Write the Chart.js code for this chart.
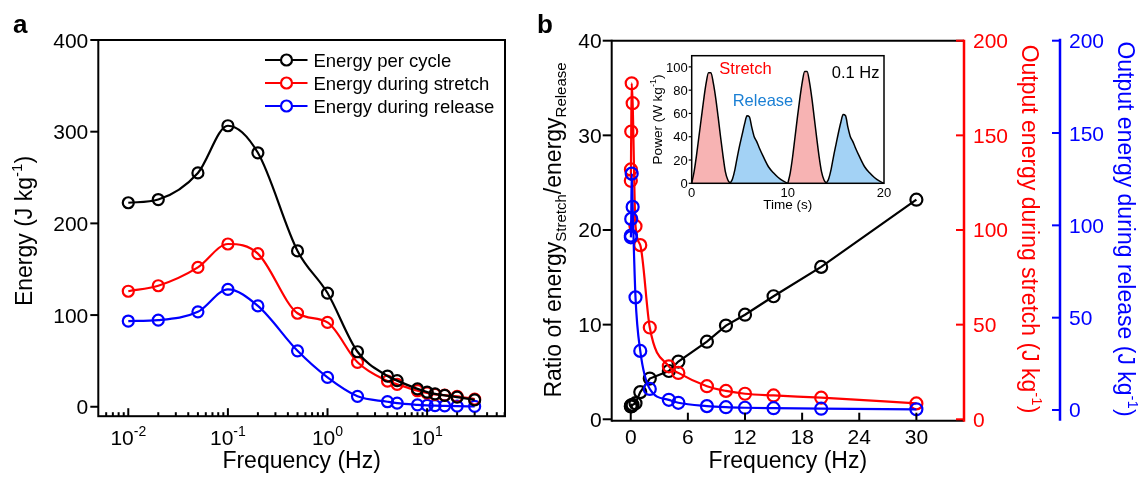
<!DOCTYPE html>
<html>
<head>
<meta charset="utf-8">
<script src="https://cdn.jsdelivr.net/npm/chart.js@4.4.0/dist/chart.umd.min.js"></script>
<style>
  html, body { margin: 0; padding: 0; background: #fff; }
  #wrap { position: relative; width: 1142px; height: 477px; overflow: hidden; }
  canvas { position: absolute; }
</style>
</head>
<body>
<div id="wrap">
  <canvas id="chartA" width="540" height="477" style="left:0;top:0"></canvas>
  <canvas id="chartB" width="612" height="477" style="left:530px;top:0"></canvas>
  <canvas id="inset" width="280" height="180" style="left:630px;top:40px"></canvas>
</div>
<script>
// data
const freqs = [0.01, 0.02, 0.05, 0.1, 0.2, 0.5, 1, 2, 4, 5, 8, 10, 12, 15, 20, 30];
const energyPerCycle = [222.5, 226, 255, 306.5, 277, 170, 124, 60, 33.5, 28.5, 19.5, 16, 14, 12.5, 10.5, 7.5];
const energyStretch = [126, 132, 152, 177.5, 167, 102, 92, 48.5, 28, 24.5, 17.5, 15, 13.5, 12.6, 11.4, 8.4];
const energyRelease = [93.5, 94.5, 103.5, 128, 110, 61, 32, 11.4, 5.5, 3.9, 2.1, 1.5, 1.2, 0.97, 0.7, 0.36];
const energyRatio = [1.35, 1.4, 1.47, 1.39, 1.52, 1.7, 2.87, 4.3, 5.1, 6.1, 8.2, 9.9, 11.05, 13.0, 16.1, 23.2];

const energyTicks = [0, 100, 200, 300, 400];
const logMajorTicks = [0.01, 0.1, 1, 10];
const logTickExps = ['-2', '-1', '0', '1'];
const freqTicks = [0, 6, 12, 18, 24, 30];
const ratioTicks = [0, 10, 20, 30, 40];
const outputTicks = [0, 50, 100, 150, 200];

// inset: power vs time at 0.1 Hz
const insetTime = [0, 0.25, 0.5, 0.75, 1, 1.25, 1.5, 1.75, 2, 2.25, 2.5, 2.75, 3, 3.25, 3.5, 3.75, 4,
  4.25, 4.5, 4.75, 5, 5.25, 5.5, 5.75, 6, 6.25, 6.5, 6.75, 7, 7.5, 8, 8.5, 9, 9.5,
  10, 10.25, 10.5, 10.75, 11, 11.25, 11.5, 11.75, 12, 12.25, 12.5, 12.75, 13, 13.25, 13.5, 13.75, 14,
  14.25, 14.5, 14.75, 15, 15.25, 15.5, 15.75, 16, 16.25, 16.5, 16.75, 17, 17.5, 18, 18.5, 19, 19.5, 20];
const insetPower = [0, 10, 24, 40, 56, 72, 86, 95, 95, 86, 73, 57, 40, 24, 10, 3, 0,
  4, 12, 23, 33, 42, 51, 58, 57, 48, 40, 36, 31, 22, 14, 9, 5, 2,
  0, 9, 23, 40, 57, 73, 87, 96, 96, 87, 73, 56, 39, 23, 10, 3, 0,
  4, 12, 23, 33, 43, 52, 59, 58, 48, 40, 36, 31, 22, 14, 9, 5, 2, 0];
const powerTicks = [0, 20, 40, 60, 80, 100];
const timeTicks = [0, 10, 20];

const FONT = '"Liberation Sans", Arial, sans-serif';
const RED = '#ff0000';
const BLUE = '#0000ff';

function seg(ctx, x1, y1, x2, y2) {
  ctx.beginPath();
  ctx.moveTo(x1, y1);
  ctx.lineTo(x2, y2);
  ctx.stroke();
}

// parts: [text, size, dy]
function rich(ctx, parts, x, y, align) {
  let w = 0;
  const widths = parts.map(p => {
    ctx.font = p[1] + 'px ' + FONT;
    const m = ctx.measureText(p[0]).width;
    w += m;
    return m;
  });
  let cx = align === 'center' ? x - w / 2 : align === 'right' ? x - w : x;
  ctx.textAlign = 'left';
  ctx.textBaseline = 'alphabetic';
  parts.forEach((p, i) => {
    ctx.font = p[1] + 'px ' + FONT;
    ctx.fillText(p[0], cx, y + (p[2] || 0));
    cx += widths[i];
  });
}

function rotText(ctx, parts, cx, cy, angle) {
  ctx.save();
  ctx.translate(cx, cy);
  ctx.rotate(angle);
  rich(ctx, parts, 0, 0, 'center');
  ctx.restore();
}

function pts(xs, ys) {
  return xs.map((v, i) => ({ x: v, y: ys[i] }));
}

function series(label, data, color, extra) {
  return Object.assign({
    label: label,
    data: data,
    borderColor: color,
    borderWidth: 2.2,
    pointRadius: 5.5,
    pointBorderWidth: 2.2,
    pointBorderColor: color,
    pointBackgroundColor: 'rgba(0,0,0,0)',
    cubicInterpolationMode: 'monotone',
    fill: false,
    clip: false
  }, extra || {});
}

// ---------- panel a ----------
const axesA = {
  id: 'axesA',
  afterDraw(chart) {
    const { ctx, chartArea: a, scales: { x, y } } = chart;
    ctx.save();
    ctx.strokeStyle = '#000';
    ctx.fillStyle = '#000';
    ctx.lineWidth = 2;
    ctx.strokeRect(a.left, a.top, a.right - a.left, a.bottom - a.top);

    ctx.font = '21px ' + FONT;
    ctx.textAlign = 'right';
    energyTicks.forEach(v => {
      const py = y.getPixelForValue(v);
      seg(ctx, a.left - 8, py, a.left, py);
      ctx.fillText(String(v), a.left - 10, py + 7.5);
    });

    for (let d = -3; d <= 1; d++) {
      for (let m = 1; m <= 9; m++) {
        const v = m * Math.pow(10, d);
        if (v <= x.min * 1.01 || v >= x.max) continue;
        const px = x.getPixelForValue(v);
        seg(ctx, px, a.bottom, px, a.bottom - (m === 1 ? 8 : 4));
      }
    }
    logMajorTicks.forEach((v, i) => {
      rich(ctx, [['10', 21, 0], [logTickExps[i], 14, -9]], x.getPixelForValue(v), 445, 'center');
    });
    rich(ctx, [['Frequency (Hz)', 23, 0]], (a.left + a.right) / 2, 468, 'center');
    rotText(ctx, [['Energy (J kg', 23, 0], ['-1', 15, -10], [')', 23, 0]], 32, 231, -Math.PI / 2);

    ctx.font = 'bold 26px ' + FONT;
    ctx.textAlign = 'left';
    ctx.fillText('a', 13, 33);

    // legend
    chart.data.datasets.forEach((ds, i) => {
      const ly = 60 + i * 23;
      ctx.strokeStyle = ds.borderColor;
      ctx.lineWidth = 2.2;
      seg(ctx, 265, ly, 307.5, ly);
      ctx.beginPath();
      ctx.arc(286.5, ly, 5.5, 0, Math.PI * 2);
      ctx.fillStyle = '#fff';
      ctx.fill();
      ctx.stroke();
      ctx.fillStyle = '#000';
      rich(ctx, [[ds.label, 18.5, 0]], 313.4, ly + 6.6, 'left');
    });
    ctx.restore();
  }
};

new Chart(document.getElementById('chartA'), {
  type: 'line',
  data: {
    datasets: [
      series('Energy per cycle', pts(freqs, energyPerCycle), '#000000'),
      series('Energy during stretch', pts(freqs, energyStretch), RED),
      series('Energy during release', pts(freqs, energyRelease), BLUE)
    ]
  },
  options: {
    responsive: false,
    animation: false,
    events: [],
    layout: { autoPadding: false, padding: { left: 98.3, right: 35, top: 40, bottom: 60.8 } },
    scales: {
      x: { type: 'logarithmic', min: 0.005, max: 60.5, display: false },
      y: { type: 'linear', min: -10.3, max: 400, display: false }
    },
    plugins: { legend: { display: false }, tooltip: { enabled: false } }
  },
  plugins: [axesA]
});

// ---------- panel b ----------
const axesB = {
  id: 'axesB',
  afterDraw(chart) {
    const { ctx, chartArea: a, scales } = chart;
    const x = scales.x, y = scales.y, yS = scales.yS, yR = scales.yR;
    ctx.save();
    ctx.lineWidth = 2;
    ctx.strokeStyle = '#000';
    ctx.fillStyle = '#000';
    seg(ctx, a.left, a.top, a.right, a.top);
    seg(ctx, a.left, a.top - 1, a.left, a.bottom + 1);
    seg(ctx, a.left, a.bottom, a.right, a.bottom);

    ctx.font = '21px ' + FONT;
    ctx.textAlign = 'right';
    ratioTicks.forEach(v => {
      const py = y.getPixelForValue(v);
      seg(ctx, a.left - 9, py, a.left, py);
      ctx.fillText(String(v), a.left - 10, py + 7.5);
    });
    ctx.textAlign = 'center';
    freqTicks.forEach(v => {
      const px = x.getPixelForValue(v);
      seg(ctx, px, a.bottom, px, a.bottom - 8);
      ctx.fillText(String(v), px, 444);
    });
    rich(ctx, [['Frequency (Hz)', 23, 0]], (a.left + a.right) / 2, 468, 'center');
    rotText(ctx, [['Ratio of energy', 23, 0], ['Stretch', 15, 5], ['/energy', 23, 0], ['Release', 15, 5]],
      31, 230, -Math.PI / 2);

    // stretch axis (red)
    ctx.strokeStyle = RED;
    ctx.fillStyle = RED;
    ctx.lineWidth = 2.5;
    seg(ctx, a.right, a.top - 1, a.right, a.bottom + 1);
    ctx.lineWidth = 2;
    ctx.font = '21px ' + FONT;
    ctx.textAlign = 'left';
    outputTicks.forEach(v => {
      const py = yS.getPixelForValue(v);
      seg(ctx, a.right - 8, py, a.right, py);
      ctx.fillText(String(v), a.right + 9, py + 7.5);
    });
    rotText(ctx, [['Output energy during stretch (J kg', 23, 0], ['-1', 15, -10], [')', 23, 0]],
      491.5, 229, Math.PI / 2);

    // release axis (blue)
    const bx = a.right + 96;
    ctx.strokeStyle = BLUE;
    ctx.fillStyle = BLUE;
    ctx.lineWidth = 2.5;
    seg(ctx, bx, a.top - 2, bx, a.bottom);
    ctx.lineWidth = 2;
    ctx.font = '21px ' + FONT;
    ctx.textAlign = 'left';
    outputTicks.forEach(v => {
      const py = yR.getPixelForValue(v);
      seg(ctx, bx - 8, py, bx, py);
      ctx.fillText(String(v), bx + 9, py + 7.5);
    });
    rotText(ctx, [['Output energy during release (J kg', 23, 0], ['-1', 15, -10], [')', 23, 0]],
      587.5, 229, Math.PI / 2);

    ctx.fillStyle = '#000';
    ctx.font = 'bold 26px ' + FONT;
    ctx.textAlign = 'left';
    ctx.fillText('b', 7, 33);
    ctx.restore();
  }
};

new Chart(document.getElementById('chartB'), {
  type: 'line',
  data: {
    datasets: [
      series('Energy during release', pts(freqs, energyRelease), BLUE, { yAxisID: 'yR', pointRadius: 6 }),
      series('Energy during stretch', pts(freqs, energyStretch), RED, { yAxisID: 'yS', pointRadius: 6 }),
      series('Ratio', pts(freqs, energyRatio), '#000000', { yAxisID: 'y', pointRadius: 6, cubicInterpolationMode: 'default', tension: 0 })
    ]
  },
  options: {
    responsive: false,
    animation: false,
    events: [],
    layout: { autoPadding: false, padding: { left: 81.7, right: 178, top: 40.7, bottom: 56.3 } },
    scales: {
      x: { type: 'linear', min: -2, max: 35, display: false },
      y: { type: 'linear', min: -0.15, max: 40, display: false },
      yS: { type: 'linear', position: 'right', min: -0.74, max: 200, display: false },
      yR: { type: 'linear', position: 'right', min: -5.8, max: 200, display: false }
    },
    plugins: { legend: { display: false }, tooltip: { enabled: false } }
  },
  plugins: [axesB]
});

// ---------- inset ----------
const stretchPart = insetTime.map((t, i) => (t % 10) <= 4 && t < 20 ? insetPower[i] : null);
const releasePart = insetTime.map((t, i) => (t % 10) >= 4 || ((t % 10) === 0 && t > 0) ? insetPower[i] : null);

const axesInset = {
  id: 'axesInset',
  beforeDraw(chart) {
    const { ctx, chartArea: a } = chart;
    ctx.save();
    ctx.fillStyle = '#fff';
    ctx.fillRect(a.left, a.top, a.right - a.left, a.bottom - a.top);
    ctx.restore();
  },
  afterDraw(chart) {
    const { ctx, chartArea: a, scales: { x, y } } = chart;
    ctx.save();
    ctx.strokeStyle = '#000';
    ctx.fillStyle = '#000';
    ctx.lineWidth = 1.5;
    ctx.strokeRect(a.left, a.top, a.right - a.left, a.bottom - a.top);
    ctx.lineWidth = 1.2;
    ctx.font = '13px ' + FONT;
    ctx.textAlign = 'right';
    powerTicks.forEach(v => {
      const py = y.getPixelForValue(v);
      seg(ctx, a.left - 3, py, a.left, py);
      ctx.fillText(String(v), a.left - 4, py + 4.7);
    });
    ctx.textAlign = 'center';
    timeTicks.forEach(v => {
      ctx.fillText(String(v), x.getPixelForValue(v), 156.5);
    });
    rich(ctx, [['Time (s)', 13.5, 0]], (a.left + a.right) / 2, 169, 'center');
    rotText(ctx, [['Power (W kg', 13.5, 0], ['-1', 9, -6], [')', 13.5, 0]], 31.8, 79.5, -Math.PI / 2);

    ctx.fillStyle = RED;
    rich(ctx, [['Stretch', 16.5, 0]], 89.3, 34.2, 'left');
    ctx.fillStyle = '#1a7fd4';
    rich(ctx, [['Release', 16.5, 0]], 102.7, 66, 'left');
    ctx.fillStyle = '#000';
    rich(ctx, [['0.1 Hz', 16.5, 0]], 201.7, 38.2, 'left');
    ctx.restore();
  }
};

const insetStyle = {
  borderColor: '#000',
  borderWidth: 1.5,
  pointRadius: 0,
  cubicInterpolationMode: 'monotone',
  fill: 'origin',
  spanGaps: false
};

new Chart(document.getElementById('inset'), {
  type: 'line',
  data: {
    datasets: [
      Object.assign({ label: 'Stretch', data: pts(insetTime, stretchPart), backgroundColor: '#f7b3b3' }, insetStyle),
      Object.assign({ label: 'Release', data: pts(insetTime, releasePart), backgroundColor: '#a3d2f5' }, insetStyle)
    ]
  },
  options: {
    responsive: false,
    animation: false,
    events: [],
    layout: { autoPadding: false, padding: { left: 61.7, right: 26, top: 15.7, bottom: 36.7 } },
    scales: {
      x: { type: 'linear', min: 0, max: 20, display: false },
      y: { type: 'linear', min: 0, max: 109.6, display: false }
    },
    plugins: { legend: { display: false }, tooltip: { enabled: false } }
  },
  plugins: [axesInset]
});
</script>
</body>
</html>
